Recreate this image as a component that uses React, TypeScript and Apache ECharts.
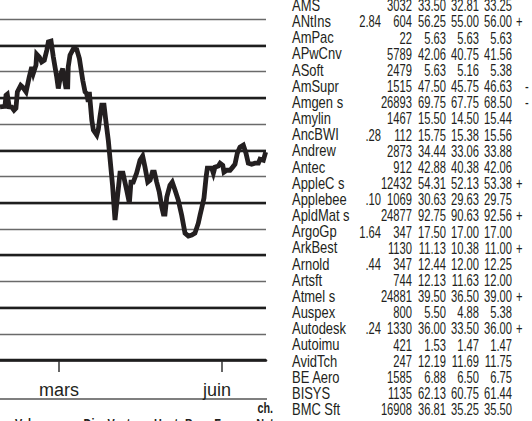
import React, { useEffect, useRef } from "react";
import * as echarts from "echarts";

// ---- line chart data (day of year, index level) ----
const days = [
  25.7, 28.5, 29.1, 29.8, 30.9, 32.3, 33.6, 34.7, 35.5, 37.4, 38.5, 40.4, 42.2, 43.6, 44.5, 46.0, 46.4, 47.9, 49.2, 50.7,
  52.1, 53.0, 54.5, 55.8, 57.7, 58.6, 60.1, 61.1, 61.8, 62.8, 63.9, 64.2, 65.2, 67.1, 69.0, 70.5, 72.4, 73.7, 74.6, 75.5,
  76.1, 77.5, 78.4, 80.3, 81.2, 82.1, 83.1, 84.4, 85.5, 86.8, 89.2, 90.6, 93.4, 95.1, 97.2, 98.7, 99.6, 100.9, 102.8, 104.7,
  106.2, 107.5, 109.1, 110.4, 111.7, 112.8, 114.1, 115.6, 117.0, 117.9, 118.8, 119.8, 121.6, 122.9, 124.5, 126.3, 128.2, 130.1, 132.0, 133.9,
  135.7, 137.6, 138.6, 139.5, 140.8, 142.0, 142.7, 145.2, 146.1, 147.0, 148.9, 149.9, 151.4, 152.1, 153.6, 155.5, 157.0, 158.3, 159.6, 161.1,
  163.0, 164.5, 165.8, 167.7, 169.6, 171.5, 172.4, 174.3, 175.6,
];
const levels = [
  96.6, 96.8, 101.0, 101.4, 96.6, 96.5, 95.3, 96.1, 102.3, 104.8, 104.1, 102.3, 108.0, 111.8, 109.4, 112.5, 116.7, 115.6, 113.7, 114.4,
  118.2, 121.4, 121.7, 115.6, 108.0, 103.6, 109.3, 111.2, 108.0, 104.2, 104.2, 111.8, 116.3, 118.8, 118.5, 115.0, 106.7, 102.3, 101.7, 98.5,
  102.3, 91.5, 87.7, 85.8, 88.0, 92.8, 97.2, 97.2, 90.9, 83.9, 66.7, 53.4, 71.3, 71.3, 64.8, 59.9, 67.9, 67.9, 71.3, 76.2,
  77.8, 73.6, 67.9, 68.6, 71.7, 71.7, 67.9, 64.0, 58.3, 55.7, 55.7, 62.1, 66.7, 67.9, 64.8, 61.0, 55.3, 48.4, 47.3, 47.7,
  48.4, 52.2, 55.3, 57.9, 61.8, 69.8, 73.2, 73.2, 71.3, 73.6, 74.0, 75.1, 74.3, 71.7, 72.4, 72.4, 73.6, 74.7, 78.9, 81.2,
  82.0, 78.9, 75.1, 74.7, 75.1, 75.1, 76.6, 76.2, 79.3,
];
const monthTicks = [59, 151];
const monthNames = ["mars", "juin"];
const yMin = 0;
const yMax = 130;
const yStep = 10;
const thickLevels = [0, 20, 40, 60, 80, 100, 120];

// ---- stock table ----
const names = ["AMS", "ANtIns", "AmPac", "APwCnv", "ASoft", "AmSupr", "Amgen s", "Amylin", "AncBWI", "Andrew", "Antec", "AppleC s", "Applebee", "ApldMat s", "ArgoGp", "ArkBest", "Arnold", "Artsft", "Atmel s", "Auspex", "Autodesk", "Autoimu", "AvidTch", "BE Aero", "BISYS", "BMC Sft"];
const divs = ["", "2.84", "", "", "", "", "", "", ".28", "", "", "", ".10", "", "1.64", "", ".44", "", "", "", ".24", "", "", "", "", ""];
const volumes = ["3032", "604", "22", "5789", "2479", "1515", "26893", "1467", "112", "2873", "912", "12432", "1069", "24877", "347", "1130", "347", "744", "24881", "800", "1330", "421", "247", "1585", "1135", "16908"];
const highs = ["33.50", "56.25", "5.63", "42.06", "5.63", "47.50", "69.75", "15.50", "15.75", "34.44", "42.88", "54.31", "30.63", "92.75", "17.50", "11.13", "12.44", "12.13", "39.50", "5.50", "36.00", "1.53", "12.19", "6.88", "62.13", "36.81"];
const lows = ["32.81", "55.00", "5.63", "40.75", "5.16", "45.75", "67.75", "14.50", "15.38", "33.06", "40.38", "52.13", "29.63", "90.63", "17.00", "10.38", "12.00", "11.63", "36.50", "4.88", "33.50", "1.47", "11.69", "6.50", "60.75", "35.25"];
const closes = ["33.25", "56.00", "5.63", "41.56", "5.38", "46.63", "68.50", "15.44", "15.56", "33.88", "42.06", "53.38", "29.75", "92.56", "17.00", "11.00", "12.25", "12.00", "39.00", "5.38", "36.00", "1.47", "11.75", "6.75", "61.44", "35.50"];
const signs = ["", "+", "", "", "", "-", "-", "", "", "", "", "+", "", "+", "", "+", "", "", "+", "", "+", "", "", "", "", ""];

const headerLabels = ["Volume", "Div", "Ventes", "Haut", "Bas", "Ferm.", "Net"];
const headerX = [34, 92, 125, 166, 195, 229, 265];

const INK = "#231f20";
const FONT = "Liberation Sans, Arial, sans-serif";

function txt(x: number, y: number, text: string, align: string, font: string, sx: number) {
  return {
    type: "text",
    x,
    y,
    scaleX: sx,
    silent: true,
    style: {
      text,
      font,
      fill: INK,
      align,
      textAlign: align,
      verticalAlign: "middle",
      textVerticalAlign: "middle",
    },
  };
}

export default function App() {
  const ref = useRef<HTMLDivElement>(null);
  useEffect(() => {
    if (!ref.current) return;
    const chart = echarts.init(ref.current, undefined, { renderer: "svg" });
    const lineData = days.map((d, i) => [d, levels[i]]);

    const rowFont = `16px ${FONT}`;
    const NS = 0.81; // names
    const DS = 0.7; // digits
    const elements: any[] = [];
    names.forEach((n, i) => {
      const y = 5.5 + i * 16.16;
      elements.push(txt(292, y, n, "left", rowFont, NS));
      if (divs[i]) elements.push(txt(381, y, divs[i], "right", rowFont, DS));
      elements.push(txt(412, y, volumes[i], "right", rowFont, DS));
      elements.push(txt(446, y, highs[i], "right", rowFont, DS));
      elements.push(txt(479, y, lows[i], "right", rowFont, DS));
      elements.push(txt(512, y, closes[i], "right", rowFont, DS));
      if (signs[i]) elements.push(txt(signs[i] === "+" ? 516 : 525, y, signs[i], "left", rowFont, DS));
    });
    elements.push({
      type: "line",
      silent: true,
      shape: { x1: 0, y1: 399, x2: 267, y2: 399 },
      style: { stroke: "#555", lineWidth: 1.5 },
    });
    elements.push(txt(273, 408, "ch.", "right", `bold 15px ${FONT}`, 0.72));
    headerLabels.forEach((h, i) => {
      elements.push(txt(headerX[i], 424, h, "center", `bold 15px ${FONT}`, 0.72));
    });

    chart.setOption({
      animation: false,
      backgroundColor: "#ffffff",
      grid: { left: 0, right: 266, top: 19.3, bottom: 61, containLabel: false },
      xAxis: {
        type: "value",
        min: days[0],
        max: days[days.length - 1] + 0.2,
        axisLine: { show: true, onZero: false, lineStyle: { color: INK, width: 2.6 } },
        axisTick: {
          show: true,
          customValues: monthTicks,
          length: 12,
          lineStyle: { color: "#333", width: 1.5 },
        },
        axisLabel: {
          show: true,
          customValues: monthTicks,
          margin: 21,
          fontSize: 18,
          fontFamily: FONT,
          color: INK,
          formatter: (v: number) => {
            const idx = monthTicks.indexOf(v);
            if (idx < 0) return "";
            return idx === 1 ? `{j|${monthNames[idx]}}` : monthNames[idx];
          },
          rich: {
            j: { fontSize: 18, fontFamily: FONT, color: INK, padding: [0, 10, 0, 0] },
          },
        },
        splitLine: { show: false },
      },
      yAxis: {
        type: "value",
        min: yMin,
        max: yMax,
        interval: yStep,
        axisLine: { show: false },
        axisTick: { show: false },
        axisLabel: { show: false },
        splitLine: { show: true, lineStyle: { color: "#6a6a6a", width: 1.4 } },
      },
      series: [
        {
          type: "line",
          z: 1,
          data: lineData,
          showSymbol: false,
          symbol: "none",
          silent: true,
          lineStyle: { width: 0, opacity: 0 },
          markLine: {
            silent: true,
            symbol: "none",
            label: { show: false },
            lineStyle: { color: "#1e1e1e", width: 2.4, type: "solid" },
            data: thickLevels.map((v) => ({ yAxis: v })),
          },
        },
        {
          type: "line",
          z: 5,
          data: lineData,
          showSymbol: false,
          symbol: "none",
          silent: true,
          lineStyle: { color: INK, width: 4.8, join: "miter", cap: "butt" },
        },
      ],
      graphic: { elements },
    });
    return () => chart.dispose();
  }, []);
  return (
    <div
      ref={ref}
      style={{ position: "fixed", left: 0, top: 0, width: 532, height: 421, overflow: "hidden", background: "#fff" }}
    />
  );
}
